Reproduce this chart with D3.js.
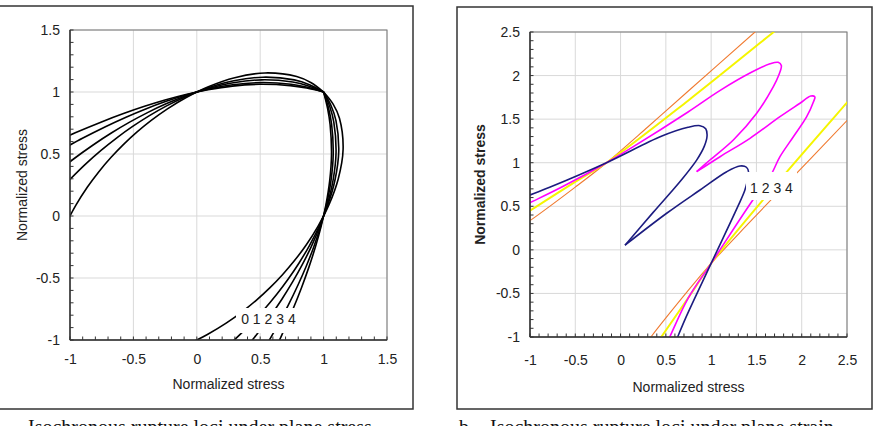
<!DOCTYPE html>
<html lang="en">
<head>
    <meta charset="UTF-8">
    <title>Isochronous rupture loci</title>
    <script src="https://cdn.jsdelivr.net/npm/d3@7"></script>
    <style>
        html, body {
            margin: 0;
            padding: 0;
            background: #fff;
            overflow: hidden;
        }
        .frame {
            fill: none;
            stroke: #333;
            stroke-width: 1.5px;
        }
        .grid {
            stroke: #d9d9d9;
            stroke-width: 1px;
        }
        .plot-border {
            fill: none;
            stroke: #777;
            stroke-width: 1px;
        }
        .axis-line, .minor {
            stroke: #333;
        }
        .tick text, .title, .curve-label {
            font-family: Arial, "Liberation Sans", sans-serif;
            font-size: 14px;
            fill: #222;
        }
        .caption {
            font-family: "Times New Roman", "Liberation Serif", serif;
            font-size: 20px;
            fill: #111;
        }
        .locus {
            fill: none;
        }
    </style>
</head>
<body>

</body>
<script>
    // a. plane stress, five isochrones 0..4 (corner at 1,1)
    const stressTicks = [-1, -0.5, 0, 0.5, 1, 1.5];
    const stressLocus0 = [[-1.0425, -0.0913], [-1, 0], [-0.9556, 0.0836], [-0.8639, 0.2315], [-0.7706, 0.3593], [-0.6757, 0.4731], [-0.5774, 0.5774], [-0.4731, 0.6757], [-0.3593, 0.7706], [-0.2315, 0.8639], [-0.0836, 0.9556], [0.0913, 1.0425], [0.2989, 1.1153], [0.5380, 1.1538], [0.7878, 1.1251], [0.9022, 1.0751], [1, 1],
        [1.0751, 0.9022], [1.1251, 0.7878], [1.1538, 0.5380], [1.1153, 0.2989], [1.0425, 0.0913], [0.9556, -0.0836], [0.8639, -0.2315], [0.7706, -0.3593], [0.6757, -0.4731], [0.5774, -0.5774], [0.4731, -0.6757], [0.3593, -0.7706], [0.2315, -0.8639], [0.0836, -0.9556], [0, -1], [-0.0913, -1.0425]];
    const stressLocus1 = [[-1.0209, 0.2735], [-0.8839, 0.4122], [-0.7553, 0.5289], [-0.6307, 0.6307], [-0.5059, 0.7225], [-0.3766, 0.8077], [-0.2380, 0.8882], [-0.0844, 0.9641], [0.0905, 1.0337], [0.2921, 1.0902], [0.5220, 1.1194], [0.7686, 1.0976], [0.8888, 1.0592], [1, 1],
        [1.0592, 0.8888], [1.0976, 0.7686], [1.1194, 0.5220], [1.0902, 0.2921], [1.0337, 0.0905], [0.9641, -0.0844], [0.8882, -0.2380], [0.8077, -0.3766], [0.7225, -0.5059], [0.6307, -0.6307], [0.5289, -0.7553], [0.4122, -0.8839], [0.2735, -1.0209]];
    const stressLocus2 = [[-1.1575, 0.3101], [-0.9773, 0.4557], [-0.8179, 0.5727], [-0.6710, 0.6710], [-0.5298, 0.7567], [-0.3888, 0.8338], [-0.2424, 0.9046], [-0.0849, 0.9698], [0.0900, 1.0281], [0.2879, 1.0745], [0.5120, 1.0981], [0.7566, 1.0805], [0.8804, 1.0491], [1, 1],
        [1.0491, 0.8804], [1.0805, 0.7566], [1.0981, 0.5120], [1.0745, 0.2879], [1.0281, 0.0900], [0.9698, -0.0849], [0.9046, -0.2424], [0.8338, -0.3888], [0.7567, -0.5298], [0.6710, -0.6710], [0.5727, -0.8179], [0.4557, -0.9773], [0.3101, -1.1575]];
    const stressLocus3 = [[-1.1027, 0.5142], [-0.8981, 0.6288], [-0.7205, 0.7205], [-0.5582, 0.7972], [-0.4028, 0.8638], [-0.2473, 0.9230], [-0.0854, 0.9760], [0.0895, 1.0221], [0.2835, 1.0581], [0.5017, 1.0760], [0.7441, 1.0627], [0.8714, 1.0385], [1, 1],
        [1.0385, 0.8714], [1.0627, 0.7441], [1.0760, 0.5017], [1.0581, 0.2835], [1.0221, 0.0895], [0.9760, -0.0854], [0.9230, -0.2473], [0.8638, -0.4028], [0.7972, -0.5582], [0.7205, -0.7205], [0.6288, -0.8981], [0.5142, -1.1027]];
    const stressLocus4 = [[-1.2019, 0.5604], [-0.9585, 0.6711], [-0.7564, 0.7564], [-0.5781, 0.8257], [-0.4123, 0.8842], [-0.2506, 0.9352], [-0.0858, 0.9800], [0.0891, 1.0182], [0.2807, 1.0477], [0.4953, 1.0623], [0.7362, 1.0514], [0.8658, 1.0317], [1, 1],
        [1.0317, 0.8658], [1.0514, 0.7362], [1.0623, 0.4953], [1.0477, 0.2807], [1.0182, 0.0891], [0.9800, -0.0858], [0.9352, -0.2506], [0.8842, -0.4123], [0.8257, -0.5781], [0.7564, -0.7564], [0.6711, -0.9585], [0.5604, -1.2019]];

    // b. plane strain, isochrones 1..4, each a list of pieces
    const strainTicks = [-1, -0.5, 0, 0.5, 1, 1.5, 2, 2.5];
    const strainLocus1 = [
        [[-1.05, 0.61], [-1, 0.63], [-0.783, 0.718], [-0.155, 1.0], [0.45, 1.303], [0.745, 1.406], [0.877, 1.425], [0.94, 1.39], [0.955, 1.31], [0.925, 1.19], [0.84, 1.03], [0.671, 0.802], [0.36, 0.43], [0.049, 0.054]],
        [[0.049, 0.054], [0.509, 0.42], [0.877, 0.687], [1.172, 0.897], [1.318, 0.962], [1.39, 0.948], [1.415, 0.885], [1.40, 0.79], [1.37, 0.679], [1.30, 0.51], [1.0, -0.155], [0.718, -0.783], [0.63, -1], [0.61, -1.05]]
    ];
    const strainLocus2 = [
        [[-1.05, 0.515], [-1, 0.541], [-0.654, 0.718], [-0.155, 1.0], [0.141, 1.184], [0.745, 1.582], [1.1, 1.83], [1.45, 2.04], [1.65, 2.135], [1.74, 2.152], [1.775, 2.115], [1.745, 2.0], [1.687, 1.873], [1.503, 1.567], [1.245, 1.261], [0.987, 1.031], [0.84, 0.897]],
        [[0.84, 0.897], [1.098, 1.069], [1.429, 1.28], [1.76, 1.528], [1.981, 1.682], [2.10, 1.765], [2.145, 1.755], [2.13, 1.70], [2.055, 1.528], [1.908, 1.298], [1.76, 1.069], [1.65, 0.84], [1.455, 0.564], [1.0, -0.155], [0.745, -0.556], [0.543, -1], [0.52, -1.05]]
    ];
    const strainLocus3 = [
        [[-1.05, 0.415], [-1, 0.449], [-0.47, 0.80], [-0.155, 1.0], [0.745, 1.712], [1.69, 2.5], [1.75, 2.55]],
        [[0.415, -1.05], [0.449, -1], [0.80, -0.47], [1.0, -0.155], [1.712, 0.745], [2.5, 1.69], [2.55, 1.75]]
    ];
    const strainLocus4 = [
        [[-1.05, 0.30], [-1, 0.335], [-0.5, 0.72], [-0.155, 1.0], [0.3, 1.41], [0.745, 1.82], [1.484, 2.5], [1.54, 2.55]],
        [[0.30, -1.05], [0.335, -1], [0.72, -0.5], [1.0, -0.155], [1.41, 0.3], [1.82, 0.745], [2.5, 1.484], [2.55, 1.54]]
    ];
    const strainColors = ['#1c1c80', '#ff00ff', '#f5f500', '#f07a30'];
    const strainWidths = [1.6, 1.6, 2, 1.1];

    let svg = d3.select('body').append('svg')
        .attr('width', 875)
        .attr('height', 426);

    let line = d3.line().curve(d3.curveCatmullRom.alpha(0.5));

    function drawPanel(opt) {
        let g = svg.append('g');

        g.append('rect')
            .classed('frame', true)
            .attr('x', opt.frame[0]).attr('y', opt.frame[1])
            .attr('width', opt.frame[2] - opt.frame[0])
            .attr('height', opt.frame[3] - opt.frame[1]);

        let x = d3.scaleLinear().domain(opt.domain).range([opt.plot[0], opt.plot[2]]);
        let y = d3.scaleLinear().domain(opt.domain).range([opt.plot[3], opt.plot[1]]);
        let minor = d3.range(Math.round(opt.domain[0] * 10), Math.round(opt.domain[1] * 10) + 1).map(i => i / 10);

        // grid
        g.append('g').selectAll('line')
            .data(opt.ticks).enter()
            .append('line').classed('grid', true)
            .attr('x1', d => x(d)).attr('x2', d => x(d))
            .attr('y1', y.range()[0]).attr('y2', y.range()[1]);
        g.append('g').selectAll('line')
            .data(opt.ticks).enter()
            .append('line').classed('grid', true)
            .attr('y1', d => y(d)).attr('y2', d => y(d))
            .attr('x1', x.range()[0]).attr('x2', x.range()[1]);

        g.append('rect').classed('plot-border', true)
            .attr('x', x.range()[0]).attr('y', y.range()[1])
            .attr('width', x.range()[1] - x.range()[0])
            .attr('height', y.range()[0] - y.range()[1]);

        // curves
        let clipId = 'clip-' + opt.name;
        g.append('clipPath').attr('id', clipId)
            .append('rect')
            .attr('x', x.range()[0]).attr('y', y.range()[1])
            .attr('width', x.range()[1] - x.range()[0])
            .attr('height', y.range()[0] - y.range()[1]);

        line.x(d => x(d[0])).y(d => y(d[1]));
        g.append('g').attr('clip-path', 'url(#' + clipId + ')')
            .selectAll('path')
            .data(opt.pieces).enter()
            .append('path')
            .classed('locus', true)
            .attr('d', d => line(d.points))
            .attr('stroke', d => d.color)
            .attr('stroke-width', d => d.width);

        // label box over the curves
        g.append('rect')
            .attr('fill', '#fff')
            .attr('x', x(opt.labelBox[0])).attr('y', y(opt.labelBox[1]))
            .attr('width', x(opt.labelBox[2]) - x(opt.labelBox[0]))
            .attr('height', y(opt.labelBox[3]) - y(opt.labelBox[1]));
        g.append('text').classed('curve-label', true)
            .attr('x', x(opt.labelAt[0])).attr('y', y(opt.labelAt[1]))
            .attr('text-anchor', 'middle')
            .text(opt.labelText);

        // axis lines and minor ticks
        g.append('line').classed('axis-line', true).attr('stroke-width', 1.5)
            .attr('x1', x.range()[0]).attr('x2', x.range()[1])
            .attr('y1', y.range()[0]).attr('y2', y.range()[0]);
        g.append('line').classed('axis-line', true).attr('stroke-width', 1.5)
            .attr('x1', x.range()[0]).attr('x2', x.range()[0])
            .attr('y1', y.range()[0]).attr('y2', y.range()[1]);
        g.append('g').selectAll('line')
            .data(minor).enter()
            .append('line').classed('minor', true)
            .attr('x1', d => x(d)).attr('x2', d => x(d))
            .attr('y1', y.range()[0]).attr('y2', y.range()[0] - 3.5);
        g.append('g').selectAll('line')
            .data(minor).enter()
            .append('line').classed('minor', true)
            .attr('y1', d => y(d)).attr('y2', d => y(d))
            .attr('x1', x.range()[0]).attr('x2', x.range()[0] + 3.5);

        let xAxis = g.append('g')
            .attr('transform', 'translate(0,' + y.range()[0] + ')')
            .call(d3.axisBottom(x).tickValues(opt.ticks).tickSize(0).tickPadding(opt.xPad).tickFormat(d => String(d)));
        let yAxis = g.append('g')
            .attr('transform', 'translate(' + x.range()[0] + ',0)')
            .call(d3.axisLeft(y).tickValues(opt.ticks).tickSize(0).tickPadding(10).tickFormat(d => String(d)));
        xAxis.select('.domain').remove();
        yAxis.select('.domain').remove();
        g.selectAll('.tick text').attr('font-family', null).attr('font-size', null);

        g.append('text').classed('title', true)
            .attr('x', (x.range()[0] + x.range()[1]) / 2)
            .attr('y', opt.xTitleY)
            .attr('text-anchor', 'middle')
            .text('Normalized stress');
        g.append('text').classed('title', true)
            .attr('transform', 'translate(' + opt.yTitleX + ',' + ((y.range()[0] + y.range()[1]) / 2) + ') rotate(-90)')
            .attr('text-anchor', 'middle')
            .attr('font-weight', opt.yTitleWeight)
            .text('Normalized stress');
    }

    let stressPieces = [];
    [stressLocus0, stressLocus1, stressLocus2, stressLocus3, stressLocus4].forEach(pts => {
        let k = pts.findIndex(p => p[0] === 1 && p[1] === 1);
        stressPieces.push({points: pts.slice(0, k + 1), color: '#000', width: 1.6});
        stressPieces.push({points: pts.slice(k), color: '#000', width: 1.6});
    });

    let strainPieces = [];
    [strainLocus1, strainLocus2, strainLocus3, strainLocus4].forEach((locus, i) => {
        locus.forEach(pts => strainPieces.push({points: pts, color: strainColors[i], width: strainWidths[i]}));
    });
    // draw orange first so the others sit on top
    strainPieces.reverse();

    drawPanel({
        name: 'stress',
        frame: [-2, 6, 413, 409],
        plot: [70, 30, 387, 340],
        domain: [-1, 1.5],
        ticks: stressTicks,
        pieces: stressPieces,
        labelBox: [0.309, -0.742, 0.814, -0.944],
        labelAt: [0.565, -0.871],
        labelText: '0 1 2 3 4',
        xPad: 14,
        xTitleY: 389,
        yTitleX: 27,
        yTitleWeight: 'normal'
    });

    drawPanel({
        name: 'strain',
        frame: [457, 7, 872, 409],
        plot: [530, 32, 847, 337],
        domain: [-1, 2.5],
        ticks: strainTicks,
        pieces: strainPieces,
        labelBox: [1.385, 0.894, 1.948, 0.572],
        labelAt: [1.666, 0.653],
        labelText: '1 2 3 4',
        xPad: 18,
        xTitleY: 392,
        yTitleX: 485,
        yTitleWeight: 'bold'
    });

    // captions (cut by the bottom edge)
    svg.append('text').classed('caption', true)
        .attr('x', 28).attr('y', 434)
        .text('Isochronous rupture loci under plane stress');
    svg.append('text').classed('caption', true)
        .attr('x', 459).attr('y', 434)
        .text('b.');
    svg.append('text').classed('caption', true)
        .attr('x', 490).attr('y', 434)
        .text('Isochronous rupture loci under plane strain');
</script>
</html>
